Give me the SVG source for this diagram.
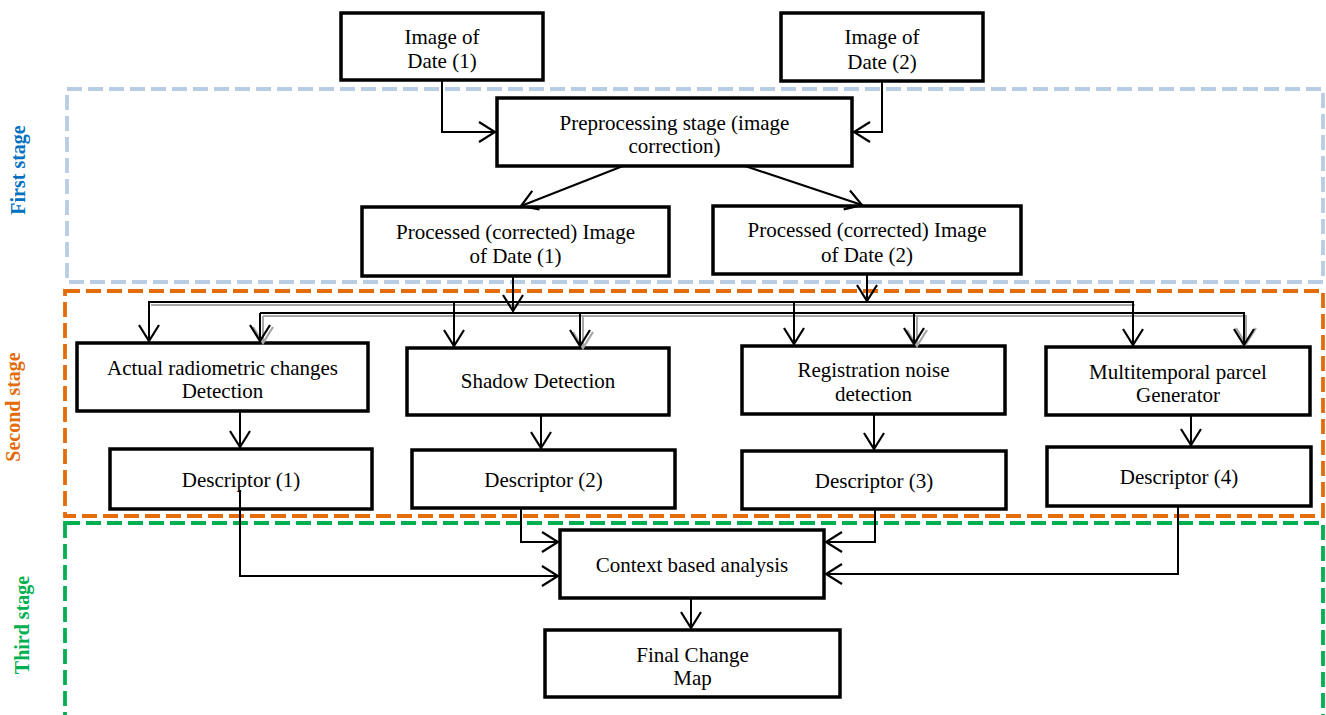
<svg xmlns="http://www.w3.org/2000/svg" width="1326" height="715" viewBox="0 0 1326 715">
<defs>
<marker id="ah" markerUnits="userSpaceOnUse" viewBox="-20 -12 22 24" refX="0" refY="0" markerWidth="22" markerHeight="24" orient="auto">
<path d="M-16,-10 L0,0 L-16,10" fill="none" stroke="#000" stroke-width="2.2"/>
</marker>
<marker id="ahg" markerUnits="userSpaceOnUse" viewBox="-20 -12 22 24" refX="0" refY="0" markerWidth="22" markerHeight="24" orient="auto">
<path d="M-16,-10 L0,0 L-16,10" fill="none" stroke="#a6a6a6" stroke-width="2.2"/>
</marker>
</defs>
<style>
.box{fill:#fff;stroke:#000;stroke-width:3.5}
.t{font-family:"Liberation Serif","Times New Roman",serif;font-size:21px;fill:#000;text-anchor:middle}
.c{fill:none;stroke:#000;stroke-width:2}
.sh{fill:none;stroke:#a6a6a6;stroke-width:2}
.stg{fill:none;stroke-width:3.8;stroke-dasharray:15 6}
.lbl{font-family:"Liberation Serif","Times New Roman",serif;font-size:20px;font-weight:bold;text-anchor:middle}
</style>
<rect width="1326" height="715" fill="#fff"/>

<g id="stages">
<rect class="stg" x="67" y="89" width="1256" height="193" stroke="#b8cce4"/>
<rect class="stg" x="65" y="291" width="1258" height="225" stroke="#e46c0a"/>
<rect class="stg" x="65" y="523" width="1258" height="230" stroke="#00b050"/>
<text class="lbl" transform="translate(25,170) rotate(-90)" fill="#0070c0">First stage</text>
<text class="lbl" transform="translate(20,407) rotate(-90)" fill="#e36c09">Second stage</text>
<text class="lbl" transform="translate(29,625) rotate(-90)" fill="#00b050">Third stage</text>
</g>

<g id="n1"><rect class="box" x="341" y="13" width="202" height="67"/><text class="t" x="442" y="44">Image of</text><text class="t" x="442" y="68">Date (1)</text></g>
<g id="n2"><rect class="box" x="781" y="13" width="202" height="68"/><text class="t" x="882" y="44">Image of</text><text class="t" x="882" y="69">Date (2)</text></g>
<g id="n3"><rect class="box" x="497" y="98" width="355" height="68"/><text class="t" x="674.5" y="130">Preprocessing stage (image</text><text class="t" x="674.5" y="153">correction)</text></g>
<g id="n4"><rect class="box" x="362" y="207" width="307" height="69"/><text class="t" x="515.5" y="239">Processed (corrected) Image</text><text class="t" x="515.5" y="263">of Date (1)</text></g>
<g id="n5"><rect class="box" x="713" y="206" width="308" height="68"/><text class="t" x="867" y="237">Processed (corrected) Image</text><text class="t" x="867" y="262">of Date (2)</text></g>
<g id="n6"><rect class="box" x="77" y="343" width="291" height="68"/><text class="t" x="222.5" y="375">Actual radiometric changes</text><text class="t" x="222.5" y="398">Detection</text></g>
<g id="n7"><rect class="box" x="407" y="348" width="262" height="67"/><text class="t" x="538" y="388">Shadow Detection</text></g>
<g id="n8"><rect class="box" x="742" y="346" width="263" height="68"/><text class="t" x="873.5" y="377">Registration noise</text><text class="t" x="873.5" y="401">detection</text></g>
<g id="n9"><rect class="box" x="1046" y="347" width="264" height="68"/><text class="t" x="1178" y="379">Multitemporal parcel</text><text class="t" x="1178" y="402">Generator</text></g>
<g id="n10"><rect class="box" x="110" y="449" width="262" height="60"/><text class="t" x="241" y="487">Descriptor (1)</text></g>
<g id="n11"><rect class="box" x="412" y="450" width="263" height="58"/><text class="t" x="543.5" y="487">Descriptor (2)</text></g>
<g id="n12"><rect class="box" x="742" y="451" width="264" height="58"/><text class="t" x="874" y="488">Descriptor (3)</text></g>
<g id="n13"><rect class="box" x="1047" y="447" width="264" height="59"/><text class="t" x="1179" y="484">Descriptor (4)</text></g>
<g id="n14"><rect class="box" x="560" y="530" width="264" height="68"/><text class="t" x="692" y="572">Context based analysis</text></g>
<g id="n15"><rect class="box" x="545" y="630" width="295" height="67"/><text class="t" x="692.5" y="662">Final Change</text><text class="t" x="692.5" y="685">Map</text></g>

<g id="connectors">
<path class="c" d="M442,80 V132 H495" marker-end="url(#ah)"/>
<path class="c" d="M882,81 V132 H854" marker-end="url(#ah)"/>
<path class="c" d="M623,166 L521,206" marker-end="url(#ah)"/>
<path class="c" d="M745,166 L862,205" marker-end="url(#ah)"/>
<path class="sh" d="M151,305 H1135"/>
<path class="sh" d="M263,316 H1246 V344" marker-end="url(#ahg)"/>
<path class="sh" d="M263,316 V343" marker-end="url(#ahg)"/>
<path class="sh" d="M583,316 V348" marker-end="url(#ahg)"/>
<path class="sh" d="M917,316 V346" marker-end="url(#ahg)"/>
<path class="c" d="M513,276 V311" marker-end="url(#ah)"/>
<path class="c" d="M867,274 V301" marker-end="url(#ah)"/>
<path class="c" d="M149,340 V302 H1133 V345" marker-end="url(#ah)"/>
<path class="c" d="M149,302 V341" marker-end="url(#ah)"/>
<path class="c" d="M454,302 V346" marker-end="url(#ah)"/>
<path class="c" d="M794,302 V344" marker-end="url(#ah)"/>
<path class="c" d="M260,313 H1244 V345" marker-end="url(#ah)"/>
<path class="c" d="M260,313 V341" marker-end="url(#ah)"/>
<path class="c" d="M580,313 V346" marker-end="url(#ah)"/>
<path class="c" d="M914,313 V344" marker-end="url(#ah)"/>
<path class="c" d="M240,411 V447" marker-end="url(#ah)"/>
<path class="c" d="M541,415 V448" marker-end="url(#ah)"/>
<path class="c" d="M874,414 V449" marker-end="url(#ah)"/>
<path class="c" d="M1191,415 V445" marker-end="url(#ah)"/>
<path class="c" d="M240,490 V576 H558" marker-end="url(#ah)"/>
<path class="c" d="M521,508 V542 H558" marker-end="url(#ah)"/>
<path class="c" d="M875,509 V542 H826" marker-end="url(#ah)"/>
<path class="c" d="M1178,506 V574 H826" marker-end="url(#ah)"/>
<path class="c" d="M691,598 V628" marker-end="url(#ah)"/>
</g>
</svg>
